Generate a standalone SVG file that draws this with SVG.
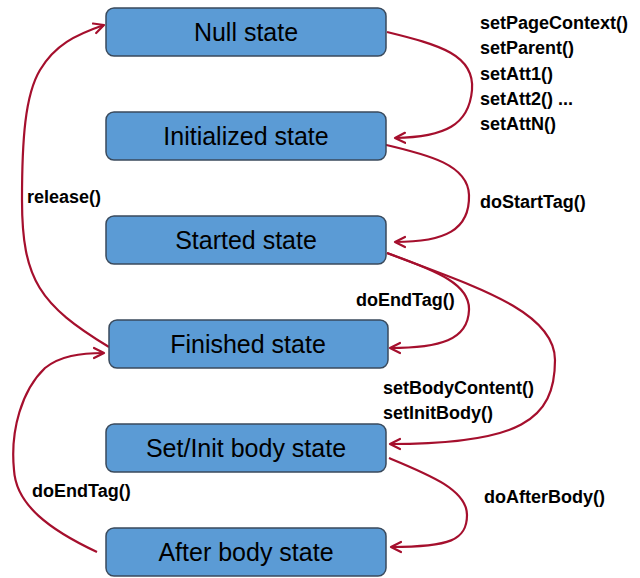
<svg xmlns="http://www.w3.org/2000/svg" width="640" height="578" viewBox="0 0 640 578">
<defs>
<style>
.node rect{fill:#5b9bd5;stroke:#3a4a5c;stroke-width:1.5}
.node text{font-family:"Liberation Sans",Arial,sans-serif;font-size:25px;fill:#000;text-anchor:middle}
.lbl{font-family:"Liberation Sans",Arial,sans-serif;font-size:18px;font-weight:bold;fill:#000}
.edge{fill:none;stroke:#a50f2d;stroke-width:2.2;marker-end:url(#arr)}
</style>
<marker id="arr" markerUnits="userSpaceOnUse" markerWidth="14" markerHeight="14" refX="11" refY="6" orient="auto" viewBox="0 0 14 12">
<path d="M1,1 L11,6 L1,11" fill="none" stroke="#a50f2d" stroke-width="2.2" stroke-linecap="round" stroke-linejoin="round"/>
</marker>
</defs>
<rect width="640" height="578" fill="#fff"/>
<g id="edges">
<path class="edge" d="M387,32 C440,45 475,55 472,90 C469,125 445,137 395,138"/>
<path class="edge" d="M382,144 C430,155 468,165 469,195 C470,230 445,242 395,242"/>
<path class="edge" d="M387,253 C440,272 470,285 469,310 C468,340 440,348 390,348"/>
<path class="edge" d="M387,253 C470,285 555,310 555,360 C555,420 520,444 390,444"/>
<path class="edge" d="M389,458 C430,475 467,490 467,515 C467,540 450,547 391,547"/>
<path class="edge" d="M97,552 C50,530 16,505 14,470 C10,430 22,390 45,368 C60,356 80,353 104,353"/>
<path class="edge" d="M109,347 C40,305 22,280 22,200 C22,140 25,95 40,70 C55,45 75,35 104,25"/>
</g>
<g id="null" class="node"><rect x="106" y="8" width="280" height="48" rx="8"/><text x="246" y="41">Null state</text></g>
<g id="initialized" class="node"><rect x="106" y="112" width="280" height="48" rx="8"/><text x="246" y="145">Initialized state</text></g>
<g id="started" class="node"><rect x="106" y="216" width="280" height="48" rx="8"/><text x="246" y="249">Started state</text></g>
<g id="finished" class="node"><rect x="109" y="320" width="279" height="48" rx="8"/><text x="248" y="353">Finished state</text></g>
<g id="setinit" class="node"><rect x="106" y="424" width="280" height="48" rx="8"/><text x="246" y="457">Set/Init body state</text></g>
<g id="afterbody" class="node"><rect x="106" y="528" width="280" height="48" rx="8"/><text x="246" y="561">After body state</text></g>
<g id="labels">
<text class="lbl" x="480" y="29">setPageContext()</text>
<text class="lbl" x="480" y="54">setParent()</text>
<text class="lbl" x="480" y="80">setAtt1()</text>
<text class="lbl" x="480" y="105">setAtt2() ...</text>
<text class="lbl" x="480" y="130">setAttN()</text>
<text class="lbl" x="480" y="208">doStartTag()</text>
<text class="lbl" x="27" y="203">release()</text>
<text class="lbl" x="356" y="306">doEndTag()</text>
<text class="lbl" x="383" y="394">setBodyContent()</text>
<text class="lbl" x="383" y="419">setInitBody()</text>
<text class="lbl" x="32" y="497">doEndTag()</text>
<text class="lbl" x="484" y="503">doAfterBody()</text>
</g>
</svg>
